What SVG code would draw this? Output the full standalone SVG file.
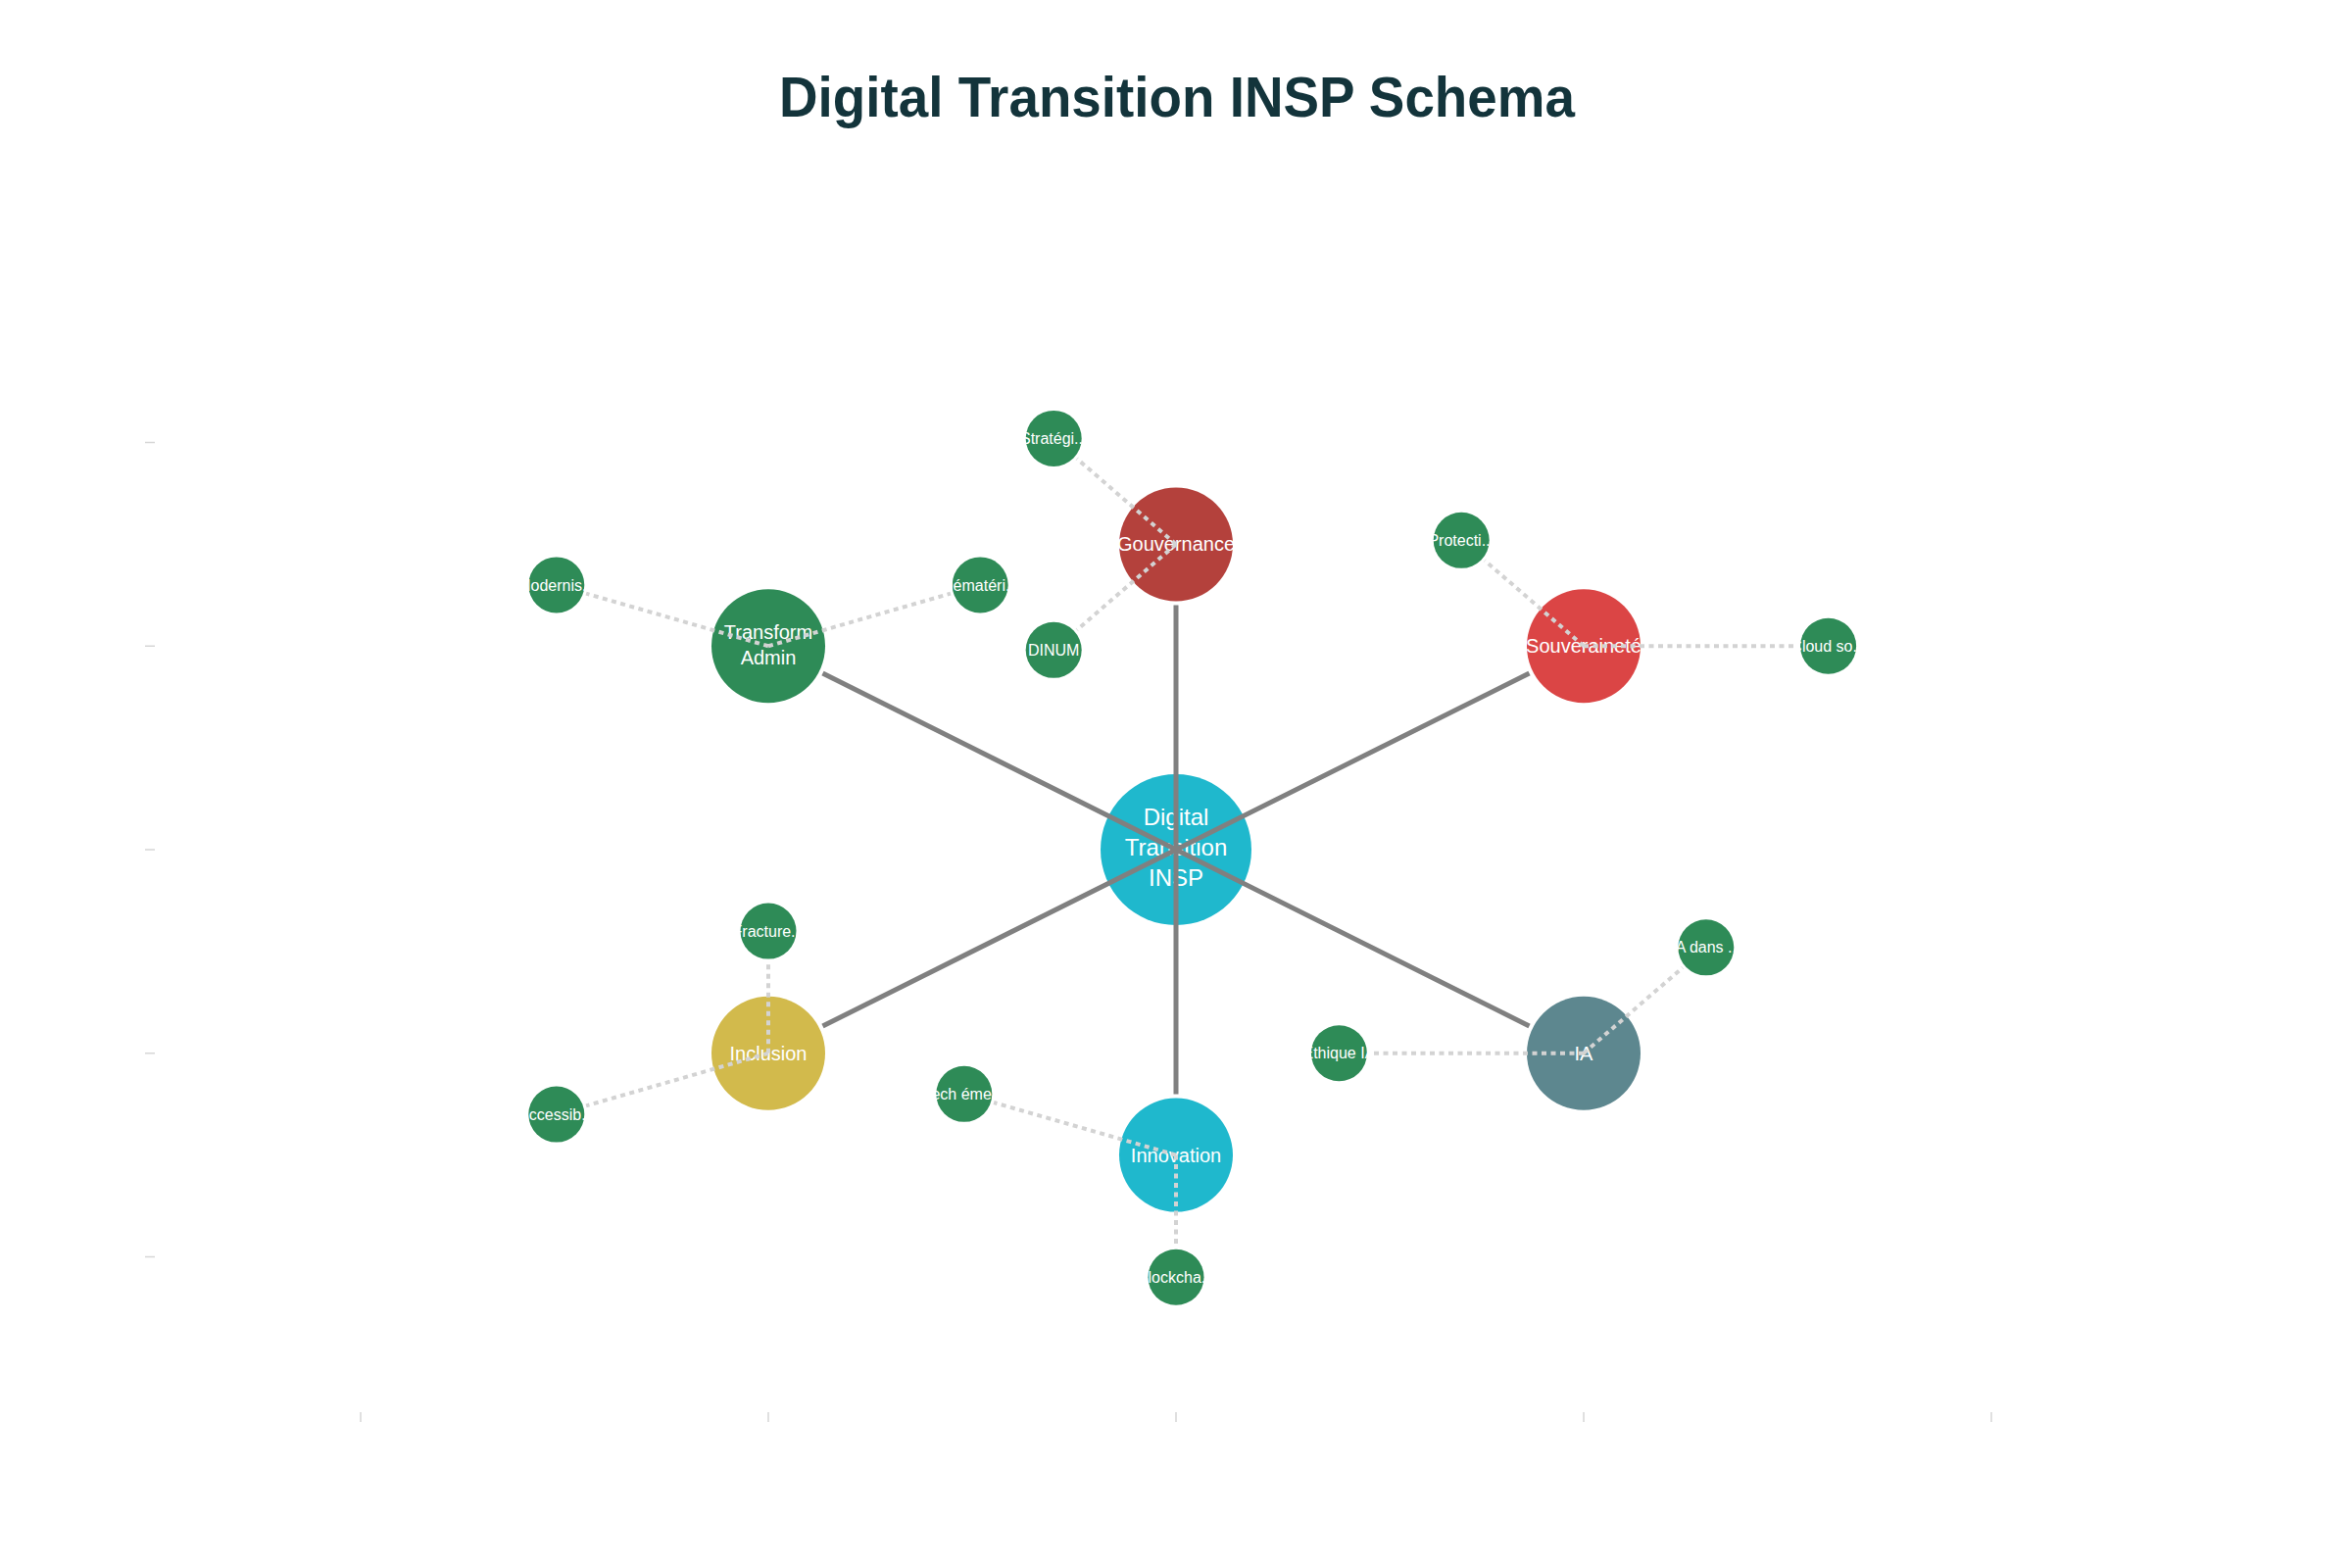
<svg xmlns="http://www.w3.org/2000/svg" width="2400" height="1600" viewBox="0 0 2400 1600">
<style>
  text { font-family: "Liberation Sans", Arial, sans-serif; fill: #ffffff; text-anchor: middle; }
  .title { font-weight: bold; font-size: 58px; fill: #13343B; }
  .lc { font-size: 24px; }
  .lm { font-size: 20px; }
  .ls { font-size: 16px; }
  .sub { fill: #2E8B57; }
  .main-edge { stroke: #808080; stroke-width: 5; fill: none; }
  .sub-edge { stroke: #d3d3d3; stroke-width: 4; stroke-dasharray: 5 4.5; fill: none; }
  .tick { stroke: #d6d6d6; stroke-width: 1.5; }
</style>
<rect width="2400" height="1600" fill="#ffffff"/>

<g id="title">
  <text class="title" x="1201" y="119" textLength="812" lengthAdjust="spacingAndGlyphs">Digital Transition INSP Schema</text>
</g>

<g id="axes">
  <line class="tick" x1="148" y1="451.5" x2="158" y2="451.5"/>
  <line class="tick" x1="148" y1="659.25" x2="158" y2="659.25"/>
  <line class="tick" x1="148" y1="867" x2="158" y2="867"/>
  <line class="tick" x1="148" y1="1074.75" x2="158" y2="1074.75"/>
  <line class="tick" x1="148" y1="1282.5" x2="158" y2="1282.5"/>
  <line class="tick" x1="368" y1="1441" x2="368" y2="1451"/>
  <line class="tick" x1="784" y1="1441" x2="784" y2="1451"/>
  <line class="tick" x1="1200" y1="1441" x2="1200" y2="1451"/>
  <line class="tick" x1="1616" y1="1441" x2="1616" y2="1451"/>
  <line class="tick" x1="2032" y1="1441" x2="2032" y2="1451"/>
</g>

<g id="node-center">
  <circle cx="1200" cy="867" r="77" fill="#1FB8CD"/>
  <text class="lc" x="1200" y="842">Digital</text>
  <text class="lc" x="1200" y="873">Transition</text>
  <text class="lc" x="1200" y="904">INSP</text>
</g>

<g id="node-gouvernance">
  <circle cx="1200" cy="555.4" r="58" fill="#B4413C"/>
  <text class="lm" x="1200" y="562">Gouvernance</text>
</g>
<g id="node-souverainete">
  <circle cx="1616" cy="659.25" r="58" fill="#DB4545"/>
  <text class="lm" x="1616" y="666">Souveraineté</text>
</g>
<g id="node-transform-admin">
  <circle cx="784" cy="659.25" r="58" fill="#2E8B57"/>
  <text class="lm" x="784" y="652">Transform</text>
  <text class="lm" x="784" y="678">Admin</text>
</g>
<g id="node-inclusion">
  <circle cx="784" cy="1074.75" r="58" fill="#D2BA4C"/>
  <text class="lm" x="784" y="1081.5">Inclusion</text>
</g>
<g id="node-innovation">
  <circle cx="1200" cy="1178.6" r="58" fill="#1FB8CD"/>
  <text class="lm" x="1200" y="1185.5">Innovation</text>
</g>
<g id="node-ia">
  <circle cx="1616" cy="1074.75" r="58" fill="#5D878F"/>
  <text class="lm" x="1616" y="1081.5">IA</text>
</g>

<g id="node-strategie">
  <circle class="sub" cx="1075.2" cy="447.45" r="28.5"/>
  <text class="ls" x="1075.2" y="453">Stratégi...</text>
</g>
<g id="node-dinum">
  <circle class="sub" cx="1075.2" cy="663.35" r="28.5"/>
  <text class="ls" x="1075.2" y="669">DINUM</text>
</g>
<g id="node-protection">
  <circle class="sub" cx="1491.2" cy="551.3" r="28.5"/>
  <text class="ls" x="1491.2" y="557">Protecti...</text>
</g>
<g id="node-cloud">
  <circle class="sub" cx="1865.6" cy="659.25" r="28.5"/>
  <text class="ls" x="1865.6" y="665">Cloud so...</text>
</g>
<g id="node-dematerialisation">
  <circle class="sub" cx="1000.2" cy="596.95" r="28.5"/>
  <text class="ls" x="1000.2" y="602.5">Dématéri...</text>
</g>
<g id="node-modernisation">
  <circle class="sub" cx="567.8" cy="596.95" r="28.5"/>
  <text class="ls" x="567.8" y="602.5">Modernis...</text>
</g>
<g id="node-fracture">
  <circle class="sub" cx="784" cy="950.1" r="28.5"/>
  <text class="ls" x="784" y="955.7">Fracture...</text>
</g>
<g id="node-accessibilite">
  <circle class="sub" cx="567.8" cy="1137.05" r="28.5"/>
  <text class="ls" x="567.8" y="1142.6">Accessib...</text>
</g>
<g id="node-tech">
  <circle class="sub" cx="983.8" cy="1116.3" r="28.5"/>
  <text class="ls" x="983.8" y="1121.9">Tech éme...</text>
</g>
<g id="node-blockchain">
  <circle class="sub" cx="1200" cy="1303.25" r="28.5"/>
  <text class="ls" x="1200" y="1308.8">Blockcha...</text>
</g>
<g id="node-ia-dans">
  <circle class="sub" cx="1740.8" cy="966.8" r="28.5"/>
  <text class="ls" x="1740.8" y="972.4">IA dans ...</text>
</g>
<g id="node-ethique">
  <circle class="sub" cx="1366.4" cy="1074.75" r="28.5"/>
  <text class="ls" x="1366.4" y="1080.3">Éthique IA</text>
</g>

<g id="connectors">
  <line class="main-edge" x1="1200" y1="867" x2="1200" y2="617.4"/>
  <line class="main-edge" x1="1200" y1="867" x2="1560.5" y2="686.95"/>
  <line class="main-edge" x1="1200" y1="867" x2="839.5" y2="686.95"/>
  <line class="main-edge" x1="1200" y1="867" x2="839.5" y2="1047.05"/>
  <line class="main-edge" x1="1200" y1="867" x2="1200" y2="1116.6"/>
  <line class="main-edge" x1="1200" y1="867" x2="1560.5" y2="1047.05"/>

  <line class="sub-edge" x1="1200" y1="555.4" x2="1099" y2="468.1"/>
  <line class="sub-edge" x1="1200" y1="555.4" x2="1099" y2="642.7"/>
  <line class="sub-edge" x1="1616" y1="659.25" x2="1515" y2="571.9"/>
  <line class="sub-edge" x1="1616" y1="659.25" x2="1834.1" y2="659.25"/>
  <line class="sub-edge" x1="784" y1="659.25" x2="969.9" y2="605.65"/>
  <line class="sub-edge" x1="784" y1="659.25" x2="598.1" y2="605.65"/>
  <line class="sub-edge" x1="784" y1="1074.75" x2="784" y2="981.6"/>
  <line class="sub-edge" x1="784" y1="1074.75" x2="598.1" y2="1128.35"/>
  <line class="sub-edge" x1="1200" y1="1178.6" x2="1014.1" y2="1125"/>
  <line class="sub-edge" x1="1200" y1="1178.6" x2="1200" y2="1271.75"/>
  <line class="sub-edge" x1="1616" y1="1074.75" x2="1717" y2="987.4"/>
  <line class="sub-edge" x1="1616" y1="1074.75" x2="1397.9" y2="1074.75"/>
</g>
</svg>
